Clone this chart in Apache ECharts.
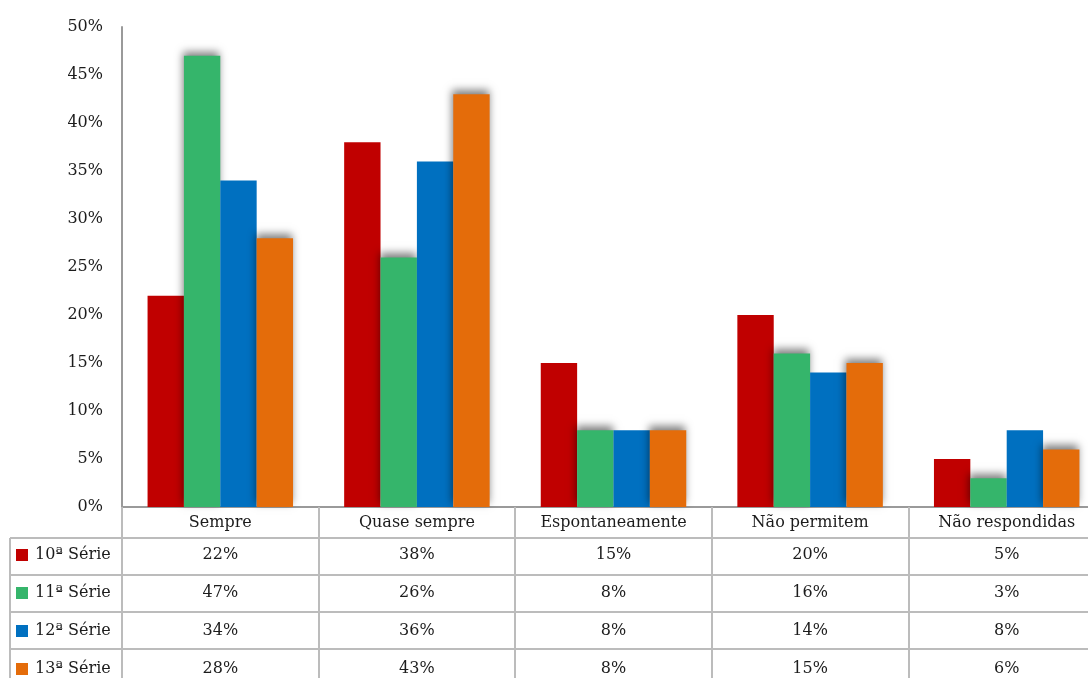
<!DOCTYPE html>
<html>
<head>
<meta charset="utf-8">
<script src="https://cdn.jsdelivr.net/npm/echarts@6/dist/echarts.min.js"></script>
<style>
  html, body { margin: 0; padding: 0; background: #fff; overflow: hidden; }
  /* The table's last column runs a little past the right edge of the view */
  #chart { width: 1105px; height: 678px; }
</style>
</head>
<body>
<div id="chart"></div>
<script>
// Categories and per-grade percentages
const categories = ['Sempre', 'Quase sempre', 'Espontaneamente', 'Não permitem', 'Não respondidas'];
const seriesNames = ['10ª Série', '11ª Série', '12ª Série', '13ª Série'];
const serie10 = [22, 38, 15, 20, 5];
const serie11 = [47, 26, 8, 16, 3];
const serie12 = [34, 36, 8, 14, 8];
const serie13 = [28, 43, 8, 15, 6];
const yTickValues = [0, 5, 10, 15, 20, 25, 30, 35, 40, 45, 50];

const seriesValues = [serie10, serie11, serie12, serie13];
const colors = ['#C00000', '#35B56B', '#0070C0', '#E46C0A'];
const shadowed = [false, true, false, true];

const FONT = '"DejaVu Serif", "Liberation Serif", serif';
const FONT_SIZE = 16;
const TEXT_COLOR = '#1c1c1c';
const CHART_W = 1105, CHART_H = 678;
const GRID_LEFT = 122, GRID_TOP = 27, GRID_BOTTOM = 171, GRID_RIGHT = 0;
const AXIS_Y = CHART_H - GRID_BOTTOM;       // pixel row of the 0% baseline
const HEADER_H = 31, ROW_H = 37, ROW_TEXT_STEP = 38;
const LINE_COLOR = '#bcbcbc';

const chart = echarts.init(document.getElementById('chart'), null, { renderer: 'canvas' });

// One extra category axis per table row, carrying that row's values
const rowAxes = seriesValues.map((vals, i) => ({
  type: 'category',
  gridIndex: 0,
  position: 'bottom',
  offset: HEADER_H + ROW_TEXT_STEP * i,
  data: vals.map(v => v + '%'),
  axisLine: { show: false },
  axisTick: { show: false },
  axisLabel: { margin: 9, fontFamily: FONT, fontSize: FONT_SIZE, color: TEXT_COLOR }
}));

// Horizontal table rules (under the header and between rows) plus the left border
const tableLines = [];
for (let i = 0; i < seriesValues.length; i++) {
  const y = Math.round(AXIS_Y + HEADER_H + ROW_H * i);
  tableLines.push({
    type: 'line',
    shape: { x1: 10, y1: y, x2: CHART_W, y2: y },
    style: { stroke: LINE_COLOR, lineWidth: 2 }
  });
}
tableLines.push({
  type: 'line',
  shape: { x1: 10, y1: AXIS_Y + HEADER_H, x2: 10, y2: CHART_H },
  style: { stroke: LINE_COLOR, lineWidth: 2 }
});

chart.setOption({
  animation: false,
  color: colors,
  grid: { left: GRID_LEFT, top: GRID_TOP, right: GRID_RIGHT, bottom: GRID_BOTTOM, containLabel: false },
  legend: {
    data: seriesNames,
    orient: 'vertical',
    left: 16,
    top: AXIS_Y + HEADER_H + 9,
    height: 200,
    icon: 'rect',
    itemWidth: 12,
    itemHeight: 12,
    itemGap: 22,
    padding: 0,
    selectedMode: false,
    textStyle: { fontFamily: FONT, fontSize: FONT_SIZE, color: TEXT_COLOR, lineHeight: 16, padding: [0, 0, 0, 2] }
  },
  xAxis: [{
    type: 'category',
    data: categories,
    position: 'bottom',
    axisLine: { lineStyle: { color: '#9a9a9a', width: 2 } },
    axisTick: { show: true, length: GRID_BOTTOM, lineStyle: { color: LINE_COLOR, width: 2 } },
    axisLabel: { margin: 8, fontFamily: FONT, fontSize: FONT_SIZE, color: TEXT_COLOR }
  }].concat(rowAxes),
  yAxis: {
    type: 'value',
    min: yTickValues[0],
    max: yTickValues[yTickValues.length - 1],
    interval: yTickValues[1] - yTickValues[0],
    axisLine: { show: true, lineStyle: { color: '#9a9a9a', width: 2 } },
    axisTick: { show: false },
    splitLine: { show: false },
    axisLabel: { formatter: '{value}%', margin: 19, fontFamily: FONT, fontSize: FONT_SIZE, color: TEXT_COLOR }
  },
  graphic: tableLines,
  series: seriesValues.map((vals, i) => ({
    name: seriesNames[i],
    type: 'bar',
    xAxisIndex: 0,
    data: vals,
    barGap: '0%',
    barCategoryGap: '26%',
    itemStyle: shadowed[i]
      ? { color: colors[i], shadowColor: 'rgba(0,0,0,0.5)', shadowBlur: 8, shadowOffsetX: -1, shadowOffsetY: -4 }
      : { color: colors[i] }
  }))
});
</script>
</body>
</html>
